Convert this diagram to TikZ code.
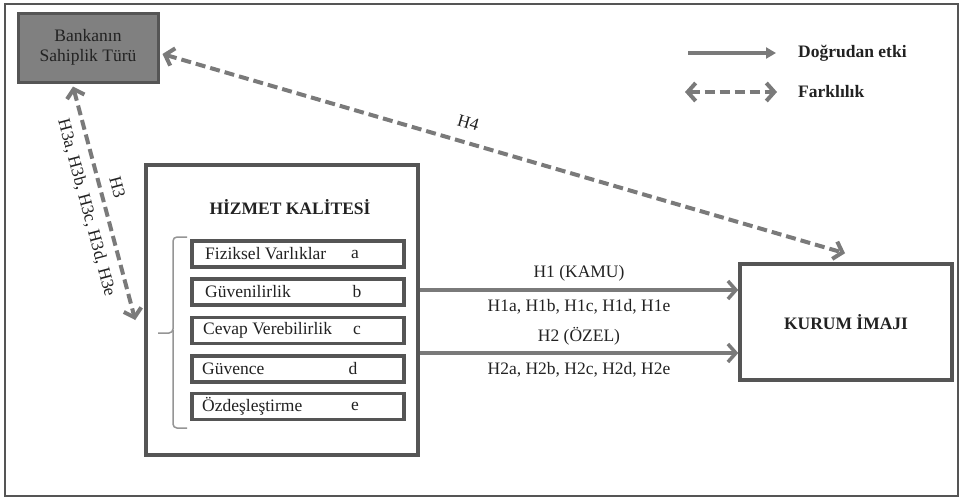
\documentclass[tikz,border=0pt]{standalone}
\usepackage{fontspec}
\setmainfont{Liberation Serif}
\usetikzlibrary{arrows.meta}
\definecolor{lgray}{HTML}{7A7A7A}
\definecolor{bgray}{HTML}{555555}
\definecolor{fgray}{HTML}{808080}
\definecolor{tdark}{HTML}{222222}
\tikzset{
  every node/.style={font=\fontsize{17.5}{20}\selectfont, text=tdark, inner sep=0pt},
  bigbox/.style={draw=bgray, line width=3.5pt, fill=white},
  itembox/.style={draw=bgray, line width=3.5pt, minimum width=212pt, minimum height=26pt},
  itemtxt/.style={anchor=west},
  solidarr/.style={draw=lgray, line width=3.5pt, -{Straight Barb[length=8pt,width=18pt,line width=3.5pt]}},
  dasharr/.style={draw=lgray, line width=4pt, dash pattern=on 10pt off 5pt, {Straight Barb[length=8pt,width=18pt,line width=4pt]}-{Straight Barb[length=8pt,width=18pt,line width=4pt]}},
  lbl/.style={font=\fontsize{17.5}{20}\selectfont}
}
\begin{document}
\begin{tikzpicture}[x=1pt,y=-1pt]
\useasboundingbox (0,0) rectangle (962,501);
% outer frame
\draw[draw=bgray, line width=2pt] (5,4) rectangle (958,496);

% Bankanin box
\node[draw=bgray, fill=fgray, line width=3pt, minimum width=140pt, minimum height=69pt, align=center, text=tdark] (bs) at (88,47.5) {Bankanın\\[0pt]Sahiplik Türü};

% Hizmet Kalitesi box
\node[bigbox, minimum width=272pt, minimum height=290pt] (hk) at (282,310) {};
\node[font=\bfseries\fontsize{17.5}{20}\selectfont] (hkt) at (290,207) {HİZMET KALİTESİ};

% item boxes
\node[itembox] (ia) at (298,254) {};
\node[itembox] (ib) at (298,292) {};
\node[itembox] (ic) at (298,330.5) {};
\node[itembox] (id) at (298,369) {};
\node[itembox] (ie) at (298,406.5) {};
\node[itemtxt] (ta) at (205,254) {Fiziksel Varlıklar};
\node[itemtxt] (tb) at (205,292) {Güvenilirlik};
\node[itemtxt] (tc) at (203,330.5) {Cevap Verebilirlik};
\node[itemtxt] (td) at (202,369) {Güvence};
\node[itemtxt] (te) at (202,406.5) {Özdeşleştirme};
\node (la) at (355,254) {a};
\node (lb) at (357,292) {b};
\node (lc) at (357,330.5) {c};
\node (ld) at (353,369) {d};
\node (le) at (355,406.5) {e};

% brace
\draw[draw=lgray!80, line width=1.5pt, rounded corners=4pt] (187,237) -- (173,237) -- (173,333) -- (158,333);
\draw[draw=lgray!80, line width=1.5pt, rounded corners=4pt] (173,330) -- (173,428) -- (187,428);

% Kurum Imaji box
\node[bigbox, minimum width=212pt, minimum height=116pt, font=\bfseries\fontsize{17.5}{20}\selectfont] (ki) at (846,322) {KURUM İMAJI};

% direct effect arrows
\draw[solidarr] (hk.east |- 0,290) -- node[above=6pt, fill=white, inner xsep=3pt, inner ysep=1pt] (h1) {H1 (KAMU)} node[below=8pt] (h1s) {H1a, H1b, H1c, H1d, H1e} (ki.west |- 0,290);
\draw[solidarr] (hk.east |- 0,353) -- node[above=6pt] (h2) {H2 (ÖZEL)} node[below=8pt] (h2s) {H2a, H2b, H2c, H2d, H2e} (ki.west |- 0,353);

% difference arrows
\draw[dasharr] ([xshift=3pt,yshift=-6.5pt]bs.east) -- node[pos=0.44, sloped, above=12pt] (h4) {H4} ([xshift=-1pt,yshift=9pt]ki.north);
\draw[dasharr] ([xshift=-15pt,yshift=-3pt]bs.south) -- node[pos=0.45, sloped, above=9pt] (h3) {H3} node[pos=0.5, sloped, below=9pt] (h3s) {H3a, H3b, H3c, H3d, H3e} ([xshift=-9pt,yshift=-10pt]hk.west);

% legend
\coordinate (l1a) at (688,53);
\coordinate (l1b) at (776,53);
\coordinate (l2a) at (685,92);
\coordinate (l2b) at (777,92);
\draw[draw=lgray, line width=3.5pt, -{Triangle[length=10pt,width=11pt]}] (l1a) -- (l1b);
\draw[dasharr, line width=3.5pt] (l2a) -- (l2b);
\node[anchor=west, font=\bfseries\fontsize{17.5}{20}\selectfont] (leg1) at (798,53) {Doğrudan etki};
\node[anchor=west, font=\bfseries\fontsize{17.5}{20}\selectfont] (leg2) at (798,92) {Farklılık};
\end{tikzpicture}
\end{document}
